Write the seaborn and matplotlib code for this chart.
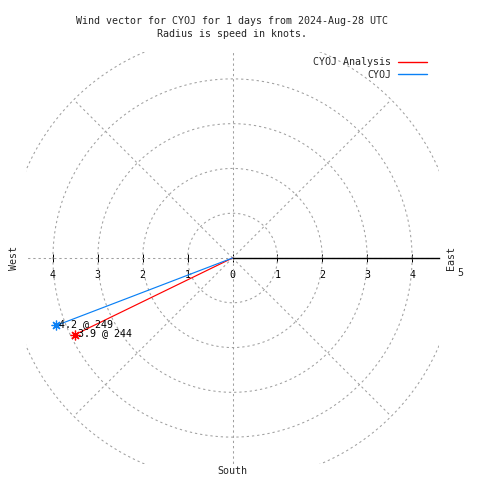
import numpy as np
import pandas as pd
import matplotlib
matplotlib.use("Agg")
import matplotlib.pyplot as plt
import seaborn as sns

# ---- data ----
series = ["CYOJ Analysis", "CYOJ"]
speeds = [3.9, 4.2]
directions = [244, 249]
colors = ["#ff0000", "#0a80f5"]
tick_positions = [-4, -3, -2, -1, 0, 1, 2, 3, 4]
tick_labels = ["4", "3", "2", "1", "0", "1", "2", "3", "4"]
ring_radii = [1, 2, 3, 4, 5]
spoke_angles = [0, 45, 90, 135, 180, 225, 270, 315]
title_lines = ["Wind vector for CYOJ for 1 days from 2024-Aug-28 UTC",
               "Radius is speed in knots."]

sns.set_theme(style="white")
plt.rcParams["font.family"] = ["DejaVu Sans Mono"]
FS = 7.2

fig = plt.figure(figsize=(4.8, 4.8), dpi=100)
ax = fig.add_axes([26 / 480, 16 / 480, 413 / 480, 412 / 480])
lim = 4.6
ax.set_xlim(-lim, lim)
ax.set_ylim(-lim, lim)

# polar grid
grid_kw = dict(color="#a0a0a0", lw=0.75, ls=(0, (2.2, 2.8)), zorder=1)
t = np.linspace(0, 2 * np.pi, 721)
for r in ring_radii:
    ax.plot(r * np.cos(t), r * np.sin(t), **grid_kw)
for a in spoke_angles:
    th = np.deg2rad(a)
    ax.plot([0, ring_radii[-1] * np.sin(th)], [0, ring_radii[-1] * np.cos(th)], **grid_kw)

# data vectors (compass direction, clockwise from north)
rad = np.deg2rad(directions)
x_end = np.array(speeds) * np.sin(rad)
y_end = np.array(speeds) * np.cos(rad)
rows = []
for name, xe, ye in zip(series, x_end, y_end):
    rows.append(dict(series=name, step=0, x=0.0, y=0.0))
    rows.append(dict(series=name, step=1, x=xe, y=ye))
df = pd.DataFrame(rows)
pal = dict(zip(series, colors))
sns.lineplot(data=df, x="x", y="y", hue="series", hue_order=series, palette=pal,
             sort=False, estimator=None, lw=0.85, ax=ax, zorder=3)

for name, s, d, xe, ye in zip(series, speeds, directions, x_end, y_end):
    ax.plot([xe], [ye], marker=(8, 2, 0), ms=7, mew=0.9, color=pal[name],
            ls="none", zorder=4)
    ax.annotate(f"{s:.1f} @ {d}", (xe, ye), xytext=(2, 1.0), textcoords="offset points",
                ha="left", va="center", fontsize=FS, color="black", zorder=5)

# axis styling
for sp in ["top", "left", "right"]:
    ax.spines[sp].set_visible(False)
ax.spines["bottom"].set_position(("data", 0))
ax.spines["bottom"].set_bounds(0, lim)
ax.spines["bottom"].set_color("black")
ax.spines["bottom"].set_linewidth(1.0)
ax.spines["bottom"].set_zorder(2.5)
ax.set_xticks(tick_positions, tick_labels)
ax.set_yticks([])
ax.tick_params(axis="x", direction="inout", length=5.76, width=0.72, color="black",
               pad=6.0, labelsize=FS, labelcolor="black", bottom=True)
ax.set_xlabel("")
ax.set_ylabel("")
ax.grid(False)

# compass labels
ax.text(-4.87, 0.0, "West", rotation=90, ha="center", va="center", fontsize=FS, clip_on=False)
ax.text(4.87, 0.0, "East", rotation=90, ha="center", va="center", fontsize=FS, clip_on=False)
ax.text(5.07, -0.33, "5", ha="center", va="center", fontsize=FS, clip_on=False)
ax.text(0.0, -4.75, "South", ha="center", va="center", fontsize=FS, clip_on=False)

# legend
leg = ax.get_legend()
handles = leg.legend_handles
labels = [tx.get_text() for tx in leg.texts]
for h in handles:
    h.set_linewidth(1.0)
ax.legend(handles, labels, loc="upper right", bbox_to_anchor=(427 / 480, 1 - 57 / 480),
          bbox_transform=fig.transFigure, markerfirst=False, frameon=False, fontsize=FS,
          handlelength=2.9, handletextpad=0.7, labelspacing=0.25, borderpad=0,
          borderaxespad=0)

# title
fig.text(232 / 480, 1 - 20.7 / 480, title_lines[0], ha="center", va="center", fontsize=FS)
fig.text(232 / 480, 1 - 34 / 480, title_lines[1], ha="center", va="center", fontsize=FS)

fig.savefig("out.png", dpi=100)
